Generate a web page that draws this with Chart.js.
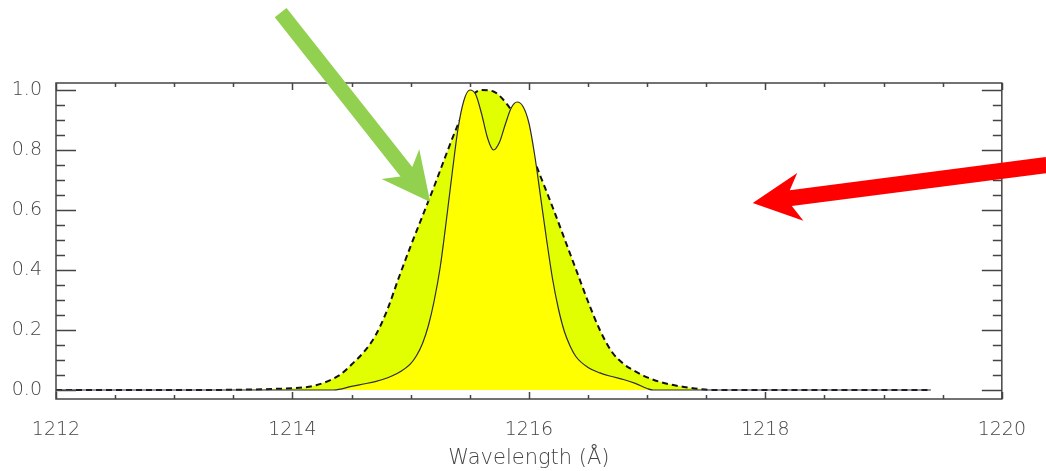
<!DOCTYPE html>
<html>
<head>
<meta charset="utf-8">
<script src="https://cdn.jsdelivr.net/npm/chart.js@4.4.1/dist/chart.umd.min.js"></script>
<style>
  html, body { margin: 0; padding: 0; background: #fff; }
  #wrap { width: 1046px; height: 471px; position: relative; }
</style>
</head>
<body>
<div id="wrap"><canvas id="lineChart"></canvas></div>
<script>
// tick values
const wavelengthTicks = [1212, 1214, 1216, 1218, 1220];
const intensityTicks = [0, 0.2, 0.4, 0.6, 0.8, 1.0];

// broad profile (dashed line, green-yellow fill)
const broadX = [1212.0, 1213.0, 1214.0, 1214.2, 1214.4, 1214.5, 1214.6, 1214.7, 1214.8, 1214.9, 1215.0,
  1215.1, 1215.2, 1215.3, 1215.4, 1215.5, 1215.6, 1215.7, 1215.8, 1215.9, 1216.0, 1216.1,
  1216.2, 1216.3, 1216.4, 1216.5, 1216.6, 1216.7, 1216.8, 1216.9, 1217.0, 1217.1, 1217.2,
  1217.3, 1217.45, 1217.55, 1218.5, 1219.4];
const broadY = [0, 0, 0.006, 0.016, 0.05, 0.085, 0.125, 0.18, 0.265, 0.375, 0.48,
  0.58, 0.68, 0.785, 0.885, 0.97, 1.0, 0.995, 0.96, 0.9, 0.81, 0.71,
  0.61, 0.505, 0.4, 0.295, 0.2, 0.128, 0.087, 0.062, 0.042, 0.028, 0.018,
  0.011, 0.003, 0, 0, 0];

// double-peaked profile (solid line, yellow fill)
const coreX = [1212.0, 1213.0, 1214.0, 1214.35, 1214.5, 1214.6, 1214.7, 1214.8, 1214.9, 1215.0, 1215.05,
  1215.1, 1215.15, 1215.2, 1215.25, 1215.3, 1215.35, 1215.4, 1215.45, 1215.5, 1215.55, 1215.6,
  1215.65, 1215.7, 1215.75, 1215.8, 1215.85, 1215.9, 1215.95, 1216.0, 1216.05, 1216.1, 1216.15,
  1216.2, 1216.25, 1216.3, 1216.35, 1216.4, 1216.5, 1216.6, 1216.7, 1216.8, 1216.9, 1217.0,
  1217.05, 1218.0, 1219.4];
const coreY = [0, 0, 0, 0, 0.012, 0.02, 0.028, 0.04, 0.058, 0.088, 0.115,
  0.155, 0.215, 0.3, 0.41, 0.56, 0.72, 0.87, 0.965, 1.0, 0.985, 0.92,
  0.84, 0.8, 0.825, 0.885, 0.94, 0.96, 0.945, 0.89, 0.78, 0.64, 0.5,
  0.37, 0.27, 0.195, 0.145, 0.11, 0.075, 0.057, 0.045, 0.035, 0.022, 0.005,
  0, 0, 0];

const toPoints = (xs, ys) => xs.map((x, i) => ({ x: x, y: ys[i] }));

// inward tick marks and box, IDL style
const boxTicks = {
  id: 'boxTicks',
  afterDatasetsDraw(chart) {
    const { ctx, chartArea: a, scales: { x, y } } = chart;
    ctx.save();
    ctx.strokeStyle = '#444';
    ctx.lineWidth = 1.5;
    ctx.strokeRect(a.left, a.top, a.right - a.left, a.bottom - a.top);
    ctx.beginPath();
    for (let v = 0; v <= 1.0001; v += 0.05) {
      const py = Math.round(y.getPixelForValue(v)) + 0.5;
      const major = Math.abs(v / 0.2 - Math.round(v / 0.2)) < 1e-6;
      const len = major ? 20 : 9;
      ctx.moveTo(a.left, py); ctx.lineTo(a.left + len, py);
      ctx.moveTo(a.right, py); ctx.lineTo(a.right - len, py);
    }
    for (let v = 1212; v <= 1220.001; v += 0.5) {
      const px = Math.round(x.getPixelForValue(v)) + 0.5;
      const major = Math.abs((v - 1212) / 2 - Math.round((v - 1212) / 2)) < 1e-6;
      const len = major ? 7 : 4;
      ctx.moveTo(px, a.bottom); ctx.lineTo(px, a.bottom - len);
      ctx.moveTo(px, a.top); ctx.lineTo(px, a.top + len);
    }
    ctx.stroke();
    ctx.restore();
  }
};

// annotation arrows, given in data units
const arrows = [
  { from: [1213.90, 1.258], to: [1215.165, 0.627], color: '#92d050', shaft: 15 },
  { from: [1220.38, 0.75], to: [1217.893, 0.623], color: '#ff0000', shaft: 16 }
];

const arrowPlugin = {
  id: 'arrowPlugin',
  afterDraw(chart) {
    const { ctx, scales: { x, y } } = chart;
    arrows.forEach(ar => {
      const x0 = x.getPixelForValue(ar.from[0]), y0 = y.getPixelForValue(ar.from[1]);
      const x1 = x.getPixelForValue(ar.to[0]), y1 = y.getPixelForValue(ar.to[1]);
      const len = Math.hypot(x1 - x0, y1 - y0);
      const ux = (x1 - x0) / len, uy = (y1 - y0) / len;
      const nx = -uy, ny = ux;
      const L = 48, W = 24, s = ar.shaft / 2, j = L * 0.8;
      ctx.save();
      ctx.fillStyle = ar.color;
      ctx.beginPath();
      ctx.moveTo(x0 + nx * s, y0 + ny * s);
      ctx.lineTo(x1 - ux * j + nx * s, y1 - uy * j + ny * s);
      ctx.lineTo(x1 - ux * L + nx * W, y1 - uy * L + ny * W);
      ctx.lineTo(x1, y1);
      ctx.lineTo(x1 - ux * L - nx * W, y1 - uy * L - ny * W);
      ctx.lineTo(x1 - ux * j - nx * s, y1 - uy * j - ny * s);
      ctx.lineTo(x0 - nx * s, y0 - ny * s);
      ctx.closePath();
      ctx.fill();
      ctx.restore();
    });
  }
};

const labelFont = { family: 'DejaVu Sans', size: 19, weight: '200' };

new Chart(document.getElementById('lineChart'), {
  type: 'line',
  data: {
    datasets: [
      {
        label: 'core',
        data: toPoints(coreX, coreY),
        borderColor: '#2b2b3a',
        borderWidth: 1.2,
        backgroundColor: '#ffff00',
        fill: 'origin',
        pointRadius: 0,
        cubicInterpolationMode: 'monotone'
      },
      {
        label: 'broad',
        data: toPoints(broadX, broadY),
        borderColor: '#111111',
        borderWidth: 2,
        borderDash: [6, 4],
        backgroundColor: '#e1ff00',
        fill: 'origin',
        pointRadius: 0,
        cubicInterpolationMode: 'monotone'
      }
    ]
  },
  options: {
    responsive: true,
    maintainAspectRatio: false,
    animation: false,
    layout: { padding: { top: 83, right: 32, left: 0, bottom: 0 } },
    plugins: {
      legend: { display: false },
      tooltip: { enabled: false }
    },
    scales: {
      x: {
        type: 'linear',
        min: 1212,
        max: 1220,
        afterBuildTicks: s => { s.ticks = wavelengthTicks.map(v => ({ value: v })); },
        afterFit: s => { s.height = 72; },
        grid: { display: false, drawTicks: false },
        border: { display: false },
        ticks: { color: '#444', font: labelFont, padding: 20, maxRotation: 0, autoSkip: false,
          callback: v => String(v) },
        title: {
          display: true,
          text: 'Wavelength (Å)',
          color: '#444',
          font: { family: 'DejaVu Sans', size: 21, weight: '200' },
          padding: { top: 0, bottom: 0 }
        }
      },
      y: {
        type: 'linear',
        min: -0.03,
        max: 1.0233,
        afterBuildTicks: s => { s.ticks = intensityTicks.map(v => ({ value: v })); },
        afterFit: s => { s.width = 56; },
        grid: { display: false, drawTicks: false },
        border: { display: false },
        ticks: { color: '#444', font: labelFont, padding: 14, callback: v => v.toFixed(1) }
      }
    }
  },
  plugins: [boxTicks, arrowPlugin]
});
</script>
</body>
</html>
